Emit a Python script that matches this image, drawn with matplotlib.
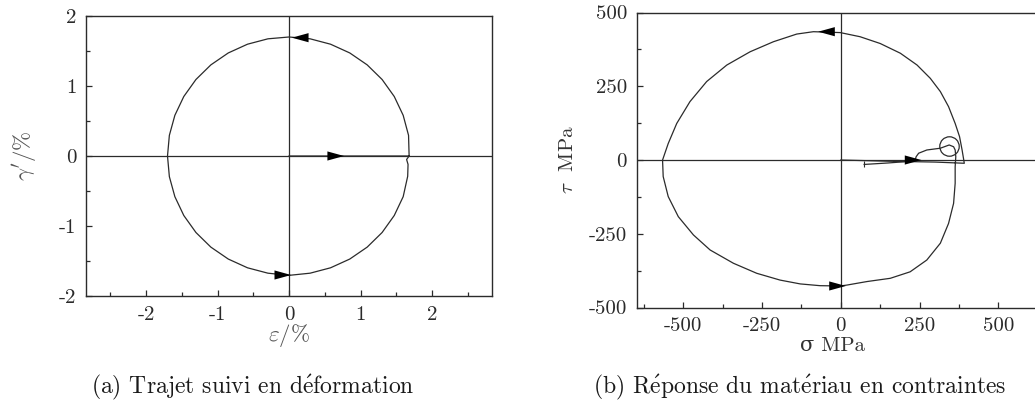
import numpy as np
import matplotlib.pyplot as plt
from matplotlib.ticker import MultipleLocator

plt.rcParams['font.family'] = ['cmr10', 'DejaVu Serif']
plt.rcParams['mathtext.fontset'] = 'cm'
plt.rcParams['axes.unicode_minus'] = False
plt.rcParams['axes.formatter.use_mathtext'] = True

LINE = '#2b2b2b'
TEXT = '#555555'

# (a) strain path, eps / gamma' in %
eps = [0.0, 0.6, 1.2, 1.68,
       1.68, 1.672, 1.597, 1.472, 1.302, 1.093, 0.850, 0.581, 0.295, 0.0,
       -0.295, -0.581, -0.850, -1.093, -1.302, -1.472, -1.597, -1.674, -1.70,
       -1.674, -1.597, -1.472, -1.302, -1.093, -0.850, -0.581, -0.295, 0.0,
       0.295, 0.581, 0.850, 1.093, 1.302, 1.472, 1.597, 1.66, 1.665, 1.645, 1.68]
gam = [0.0, 0.0, 0.0, 0.0,
       0.0, 0.295, 0.581, 0.850, 1.093, 1.302, 1.472, 1.597, 1.674, 1.70,
       1.674, 1.597, 1.472, 1.302, 1.093, 0.850, 0.581, 0.295, 0.0,
       -0.295, -0.581, -0.850, -1.093, -1.302, -1.472, -1.597, -1.674, -1.705,
       -1.674, -1.597, -1.472, -1.302, -1.093, -0.850, -0.581, -0.29, -0.12, -0.05, 0.0]
# arrow (base, tip) positions on the strain path
arrows_a = [((0.28, 1.69), (0.04, 1.69)),
            ((0.51, 0.0), (0.77, 0.0)),
            ((-0.23, -1.70), (0.03, -1.70))]

# (b) stress response, sigma / tau in MPa
sig = [0, 150, 300, 392,
       385, 377, 363, 342, 316, 284, 242, 189, 125, 61, -2,
       -87, -140, -214, -288, -362, -426, -479, -521, -548, -566,
       -564, -548, -516, -468, -415, -341, -267, -193, -129, -66, -2,
       19, 83, 157, 220, 273, 316, 342, 358, 363, 363, 365, 363, 358, 344,
       316, 273, 247, 239, 236, 200, 150, 74]
tau = [0, -4, -7, -11,
       34, 79, 124, 181, 232, 277, 322, 362, 395, 418, 432,
       435, 427, 401, 367, 322, 266, 198, 124, 56, 0,
       -56, -124, -192, -254, -305, -350, -384, -407, -420, -426, -427,
       -424, -412, -401, -379, -339, -282, -215, -147, -79, -23, 11, 34, 45, 51,
       40, 34, 23, 11, 0, -6, -10, -15]
marker_b = (344, 47)
arrows_b = [((-18, 435), (-72, 435)),
            ((208, 0), (256, 0)),
            ((-32, -427), (16, -427))]

fig = plt.figure(figsize=(10.35, 4.08), dpi=100)
ax1 = fig.add_axes([0.0831, 0.2745, 0.3923, 0.6863])
ax2 = fig.add_axes([0.6152, 0.2463, 0.3950, 0.7230])


def style(ax):
    for s in ax.spines.values():
        s.set_color(LINE)
        s.set_linewidth(1.0)
    ax.spines['right'].set_visible(ax is ax1)
    ax.tick_params(which='both', direction='in', top=False, right=False,
                   colors=LINE, labelcolor='#2a2a2a', labelsize=15, pad=7)
    ax.tick_params(which='major', length=4.5, width=0.9)
    ax.tick_params(which='minor', length=3, width=0.9)
    ax.axhline(0, color=LINE, lw=0.9)
    ax.axvline(0, color=LINE, lw=0.9)


def arrows(ax, pairs):
    for base, tip in pairs:
        ax.annotate('', xy=tip, xytext=base,
                    arrowprops=dict(arrowstyle='-|>,head_length=1.2,head_width=0.33',
                                    mutation_scale=10, color='k', lw=0,
                                    shrinkA=0, shrinkB=0))


style(ax1)
ax1.plot(eps, gam, color=LINE, lw=0.9)
arrows(ax1, arrows_a)
ax1.set_xlim(-2.84, 2.84)
ax1.set_ylim(-2, 2)
ax1.xaxis.set_minor_locator(MultipleLocator(0.5))
ax1.yaxis.set_minor_locator(MultipleLocator(0.5))
ax1.set_xticks([-2, -1, 0, 1, 2], ['-2', '-1', '0', '1', '2'])
ax1.set_yticks([-2, -1, 0, 1, 2], ['-2', '-1', '0', '1', '2'])
ax1.set_xlabel(r'$\varepsilon/\%$', fontsize=16.5, color=TEXT)
ax1.set_ylabel(r"$\gamma'/\%$", fontsize=16.5, color=TEXT)
ax1.xaxis.set_label_coords(0.5, -0.14)
ax1.yaxis.set_label_coords(-0.15, 0.5)
ax1.xaxis.label.set_va('center')
ax1.yaxis.label.set_va('center')

style(ax2)
ax2.plot(sig, tau, color=LINE, lw=0.9)
ax2.plot(*marker_b, marker='o', ms=14, mfc='none', mec=LINE, mew=0.9)
ax2.plot(sig[-1], tau[-1], marker='|', ms=4, color=LINE, mew=0.8)
arrows(ax2, arrows_b)
ax2.set_xlim(-648, 650)
ax2.set_ylim(-500, 500)
ax2.xaxis.set_minor_locator(MultipleLocator(125))
ax2.yaxis.set_minor_locator(MultipleLocator(125))
ax2.set_xticks([-500, -250, 0, 250, 500], ['-500', '-250', '0', '250', '500'])
ax2.set_yticks([-500, -250, 0, 250, 500], ['-500', '-250', '0', '250', '500'])
ax2.set_xlabel('σ MPa', fontsize=15, color='#333333')
ax2.set_ylabel(r'$\tau$  MPa', fontsize=15, color='#333333')
ax2.xaxis.set_label_coords(0.478, -0.13)
ax2.yaxis.set_label_coords(-0.168, 0.5)
ax2.xaxis.label.set_va('center')
ax2.yaxis.label.set_va('center')

fig.text(253 / 1035, 1 - 387 / 408, r'(a) Trajet suivi en d$\acute{\mathrm{e}}$formation',
         ha='center', va='center', fontsize=17, color='#1a1a1a')
fig.text(800 / 1035, 1 - 387 / 408, r'(b) R$\acute{\mathrm{e}}$ponse du mat$\acute{\mathrm{e}}$riau en contraintes',
         ha='center', va='center', fontsize=17, color='#1a1a1a')

fig.savefig('out.png', dpi=100)
